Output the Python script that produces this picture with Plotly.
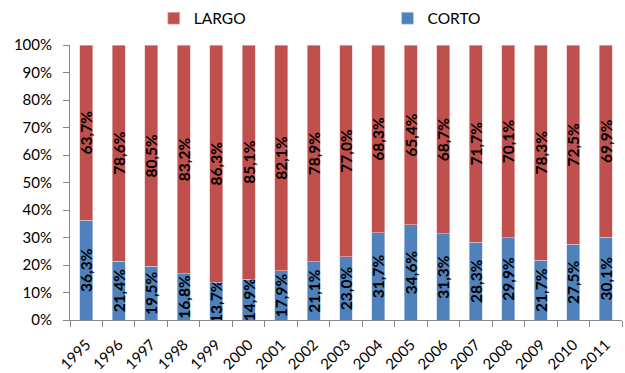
import plotly.graph_objects as go

years = ["1995", "1996", "1997", "1998", "1999", "2000", "2001", "2002", "2003",
         "2004", "2005", "2006", "2007", "2008", "2009", "2010", "2011"]
corto = [36.3, 21.4, 19.5, 16.8, 13.7, 14.9, 17.9, 21.1, 23.0,
         31.7, 34.6, 31.3, 28.3, 29.9, 21.7, 27.5, 30.1]
largo = [63.7, 78.6, 80.5, 83.2, 86.3, 85.1, 82.1, 78.9, 77.0,
         68.3, 65.4, 68.7, 71.7, 70.1, 78.3, 72.5, 69.9]
y_ticks = [0, 10, 20, 30, 40, 50, 60, 70, 80, 90, 100]


def fmt(v):
    return f"{v:.1f}".replace(".", ",") + "%"


font_family = "Lato, 'Open Sans', sans-serif"
label_font = dict(family=font_family, size=15.5, color="black", weight="bold")

fig = go.Figure()
fig.add_trace(go.Bar(
    name="CORTO", x=years, y=corto, legend="legend2",
    marker=dict(color="#4F81BD", line=dict(color="#C5D5EA", width=0.6)),
    text=[fmt(v) for v in corto], textposition="inside", textangle=-90,
    insidetextanchor="middle", constraintext="none", textfont=label_font,
))
fig.add_trace(go.Bar(
    name="LARGO", x=years, y=largo, legend="legend",
    marker=dict(color="#C0504D", line=dict(color="#EDC5C4", width=0.6)),
    text=[fmt(v) for v in largo], textposition="inside", textangle=-90,
    insidetextanchor="middle", constraintext="none", textfont=label_font,
))

legend_common = dict(orientation="h", yanchor="middle", xanchor="left",
                     y=0.95, yref="container", font=dict(size=15.5),
                     bgcolor="rgba(0,0,0,0)", itemwidth=30)

fig.update_layout(
    barmode="stack",
    bargap=0.6,
    width=625, height=373,
    margin=dict(l=70, r=3, t=45, b=53, autoexpand=False),
    plot_bgcolor="white", paper_bgcolor="white",
    font=dict(family=font_family, size=15, color="black"),
    showlegend=True,
    legend=dict(**legend_common, x=0.246, xref="container"),
    legend2=dict(**legend_common, x=0.62, xref="container"),
    uniformtext=dict(mode=False),
)
fig.update_xaxes(
    type="category", tickangle=-45, showline=True, linecolor="#868686",
    ticks="outside", tickson="boundaries", ticklen=6, tickcolor="#868686",
    tickfont=dict(size=15), showgrid=False, ticklabelstandoff=9,
)
fig.update_yaxes(
    range=[0, 100], tickvals=y_ticks, ticktext=[f"{v}%" for v in y_ticks],
    showline=True, linecolor="#868686", ticks="outside", ticklen=6,
    tickcolor="#868686", showgrid=False, zeroline=False, tickfont=dict(size=15),
    ticklabelstandoff=8,
)

fig.write_html("out.html")
